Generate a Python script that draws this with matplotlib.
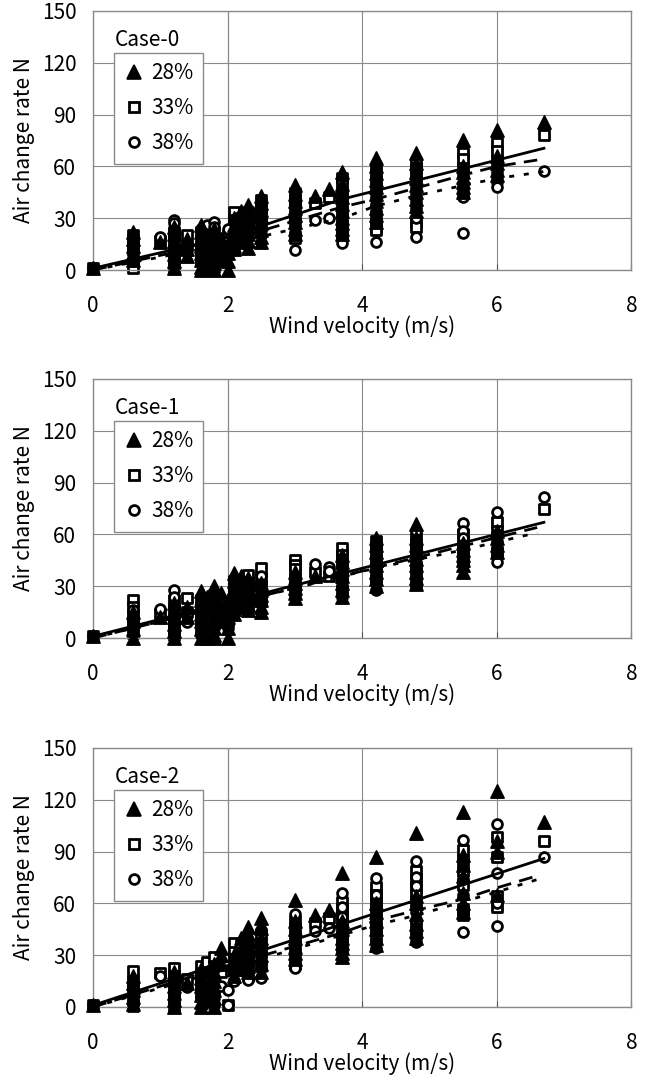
import matplotlib
matplotlib.use("Agg")
import matplotlib.pyplot as plt
from matplotlib.lines import Line2D

plt.rcParams['font.family'] = ['Noto Sans CJK JP', 'DejaVu Sans']

# wind velocity columns (m/s)
wind = [0, 0.6, 1.0, 1.2, 1.4, 1.6, 1.7, 1.8, 1.9, 2.0, 2.1, 2.2, 2.3, 2.5,
        3.0, 3.3, 3.5, 3.7, 4.2, 4.8, 5.5, 6.0, 6.7]

series_labels = ["28%", "33%", "38%"]
case_names = ["Case-0", "Case-1", "Case-2"]

# air change rate N, one list per wind velocity column
case0_28 = [[1], [22, 18, 14, 10, 6], [16], [25, 21, 17, 13, 9, 5, 1], [18, 12, 8],
            [26, 22, 18, 14, 10, 6, 2, 0], [20, 14, 8, 2], [24, 20, 16, 12, 8, 4, 0], [18, 12, 6],
            [0, 5, 10, 15], [30, 26, 22, 18, 14, 12], [34, 28, 22, 16], [37.6, 33, 29, 25, 21, 17, 13],
            [43, 39, 35, 31, 27, 23, 19, 16], [49, 44, 40, 36, 32, 28, 24, 21], [43], [47],
            [57, 50, 46, 42, 38, 34, 30, 27, 24, 21], [65, 60, 56, 52, 48, 44, 40, 36, 32, 28],
            [68, 62, 57, 53, 49, 45, 41, 37, 34], [75, 60, 57, 54, 51, 48, 45],
            [81, 66, 62, 58, 55], [85.7]]
case0_33 = [[1], [20, 16, 12, 1], [17], [22, 16, 10, 4, 1], [20, 14], [22, 17, 12, 7], [16],
            [22, 18, 12, 6, 2], [], [20, 17], [33.6, 29, 25, 21], [30], [33.6, 30, 26], [40.5, 36, 31, 26],
            [44.6, 41, 37, 30, 18.5], [39], [42], [53, 49, 44, 37, 31, 24, 20],
            [59, 55, 51, 47, 30, 25, 23], [62, 59, 55, 28, 25], [68, 64, 59],
            [73.5, 69, 63], [78]]
case0_38 = [[1], [19, 16, 13, 9, 5], [19], [29, 27, 23, 19, 14, 8], [15], [24, 19, 13, 4], [26],
            [28, 25, 20, 14, 8, 2], [], [10, 24], [28, 22, 12], [24], [31, 26, 20], [34, 29, 23, 20],
            [38, 33, 29, 26, 22, 11.6], [29], [30], [45, 41, 35, 28, 22, 15.6],
            [53, 49, 45, 42, 38, 34, 16], [52, 48, 44, 40, 36, 30, 19], [55, 50, 47, 44, 42, 21.5],
            [57, 54, 51, 48], [57.5]]

case1_28 = [[1], [0, 5, 10, 15], [12], [20, 16, 12, 8, 4, 0], [18, 12], [27, 22, 18, 14, 10, 5, 0],
            [24, 16, 8, 0], [30, 26, 22, 18, 14, 10, 6, 2, 0], [26, 18, 10], [0, 6, 12, 17, 22],
            [37.6, 33, 29, 25, 21, 17, 14], [36, 30, 24, 18], [35, 31, 27, 23, 19, 16],
            [32, 28, 25, 22, 18, 15], [38, 35, 32, 29, 26, 23], [36], [],
            [48, 44, 40, 36, 32, 28, 24], [58, 54, 50, 46, 42, 38, 34, 30],
            [66, 58, 54, 50, 46, 42, 38, 35, 31], [55, 51, 48, 45, 42, 38], [62, 58, 54, 50], []]
case1_33 = [[1], [22, 18, 13, 8, 3], [14], [22, 17, 10, 5, 2], [23, 15], [22, 18, 14, 9, 5], [18],
            [25, 20, 16, 8], [], [10, 18], [33, 29, 25, 18], [32], [36.5, 32, 28, 20], [40.5, 35, 30, 22],
            [45, 42, 40, 34, 30], [38], [36], [52, 48, 45, 36, 28], [56, 53, 50, 42, 34],
            [58, 54, 50, 40, 31], [60, 56, 52, 46], [67, 62, 50], [75]]
case1_38 = [[1], [16, 12, 9, 6], [17], [28, 24, 18, 12, 7, 3], [9], [20, 14, 8, 2], [12], [22, 16, 10],
            [], [6, 20], [28, 24, 20], [26], [32, 27, 22, 16], [36, 31, 26, 20], [36, 32, 28, 24], [43],
            [41, 39], [44, 41, 38, 34, 30, 24], [54, 50, 46, 42, 38, 33, 28],
            [62, 57, 52, 48, 44, 40, 36], [66.5, 62, 58, 54, 50, 44], [73, 60, 56, 52, 48, 44], [81.6]]

case2_28 = [[1], [18, 14, 10, 6, 2], [], [20, 16, 12, 8, 4, 0], [14], [22, 17, 12, 7, 3, 0],
            [20, 12, 4], [25, 20, 15, 10, 5, 0], [34, 30, 25], [], [30, 26, 22, 18], [40, 34, 28, 22],
            [46.5, 42, 38, 33, 28, 24, 20], [51.5, 46, 40, 35, 30, 25, 20], [62, 50, 45, 40, 35, 31, 28],
            [53], [56], [77.6, 50, 45, 40, 37, 34, 31, 29], [87, 60, 55, 50, 45, 40, 36],
            [100.6, 64, 60, 54, 48, 44, 40], [113, 88, 82, 76, 66, 60, 55],
            [125, 96, 90, 65], [107]]
case2_33 = [[1], [21, 15, 10, 6, 0.5], [19.7], [22.6, 18, 15, 10, 5, 0], [16], [24, 18, 13, 8], [26],
            [29, 24, 20, 15, 10], [20], [1], [37, 32, 28, 22], [36], [35, 30, 25, 18], [42, 37, 32, 24],
            [50, 44, 40, 33, 25], [48.6], [51.5], [61, 57, 54, 49, 45, 40, 35],
            [69.6, 65, 61, 56, 50.5, 45, 40.6], [79, 74, 69.6, 65, 61, 46.5, 42],
            [91, 85, 79, 70.6, 57, 53], [98.6, 87, 64, 58], [96]]
case2_38 = [[1], [14, 8, 3], [18], [18, 12, 8, 2], [11.6], [20, 14, 6], [16], [22, 15, 5, 1], [12],
            [1, 10], [21, 15], [28], [30, 24, 15.6], [44.6, 35, 26, 17], [54, 48, 37, 30, 22.6], [44],
            [46], [66, 58, 52, 48, 43, 40], [74.6, 65, 60, 56, 46, 34], [84.6, 75, 70, 55, 50, 37.6],
            [96.7, 85, 74, 65, 55, 43.6], [106, 77.6, 60, 47], [87]]

# fitted lines per series
case0_fit_x = [[0, 2, 3.7, 6.7], [0, 2, 3.7, 4.2, 5.5, 6.0, 6.6], [0, 2, 3.7, 4.2, 4.8, 5.5, 6.0, 6.7]]
case0_fit_y = [[1, 19, 41, 70.5], [0, 17, 36.5, 41, 55, 60, 63.7], [0, 15, 30, 37, 43, 49, 53, 57]]
case1_fit_x = [[0, 6.7], [0, 6.6], [0, 4.2, 5.5, 6.6]]
case1_fit_y = [[1, 67], [0, 64], [0, 40.5, 51, 61]]
case2_fit_x = [[0, 6.7], [0, 2, 3.7, 4.2, 4.8, 5.5, 6.0, 6.6], [0, 2, 4.2, 4.8, 5.5, 6.0, 6.7]]
case2_fit_y = [[1, 86], [0, 24, 43, 50, 56, 62.5, 69, 76], [0, 22, 47.5, 53, 61, 66.6, 75]]

cases = [
    ([case0_28, case0_33, case0_38], case0_fit_x, case0_fit_y),
    ([case1_28, case1_33, case1_38], case1_fit_x, case1_fit_y),
    ([case2_28, case2_33, case2_38], case2_fit_x, case2_fit_y),
]

markers = [dict(marker='^', s=90, facecolor='black', edgecolor='black', linewidths=1.2),
           dict(marker='s', s=46, facecolor='white', edgecolor='black', linewidths=2.0),
           dict(marker='o', s=50, facecolor='white', edgecolor='black', linewidths=2.0)]
marker_z = [4, 2, 3]
line_styles = ['-', (0, (5, 3)), (0, (1.8, 3.5))]

fig = plt.figure(figsize=(6.51, 10.77), dpi=100)
bottoms = [0.7493, 0.4076, 0.0650]
fs = 15

for k, (series, fit_x, fit_y) in enumerate(cases):
    ax = fig.add_axes([0.1429, bottoms[k], 0.827, 0.2405])
    for i, cols in enumerate(series):
        xs = []
        ys = []
        for w, vals in zip(wind, cols):
            for v in vals:
                xs.append(w)
                ys.append(v)
        ax.scatter(xs, ys, clip_on=False, zorder=marker_z[i], **markers[i])
    for i in range(3):
        ax.plot(fit_x[i], fit_y[i], color='black', lw=2.0, linestyle=line_styles[i], zorder=6)

    ax.set_xlim(0, 8)
    ax.set_ylim(0, 150)
    ax.set_xticks([0, 2, 4, 6, 8])
    ax.set_yticks([0, 30, 60, 90, 120, 150])
    ax.grid(True, color='#8a8a8a', lw=0.8, zorder=0)
    ax.axvline(2, color='#404040', lw=0.8, zorder=0.5)
    ax.set_axisbelow(True)
    for sp in ax.spines.values():
        sp.set_color('#8a8a8a')
        sp.set_linewidth(1.0)
    ax.tick_params(axis='x', direction='in', length=4, color='#555555', pad=18, labelsize=fs)
    ax.tick_params(axis='y', length=0, pad=12, labelsize=fs)
    ax.set_xlabel("Wind velocity (m/s)", fontsize=fs, labelpad=-1)
    ax.set_ylabel("Air change rate N", fontsize=fs, labelpad=5)

    handles = [Line2D([], [], linestyle='none', marker=m['marker'], markersize=(m['s'] ** 0.5),
                      markerfacecolor=m['facecolor'], markeredgecolor='black',
                      markeredgewidth=m['linewidths']) for m in markers]
    leg = ax.legend(handles, series_labels, loc='upper left', bbox_to_anchor=(0.039, 0.838),
                    borderaxespad=0, frameon=True, fancybox=False, edgecolor='#8a8a8a',
                    framealpha=1, fontsize=fs, handlelength=1.0, handletextpad=0.35,
                    labelspacing=0.62, borderpad=0.45)
    leg.get_frame().set_linewidth(1.0)
    leg.set_zorder(10)
    ax.text(0.041, 0.888, case_names[k], transform=ax.transAxes, fontsize=fs, va='center', ha='left')

fig.savefig("out.png", dpi=100)
